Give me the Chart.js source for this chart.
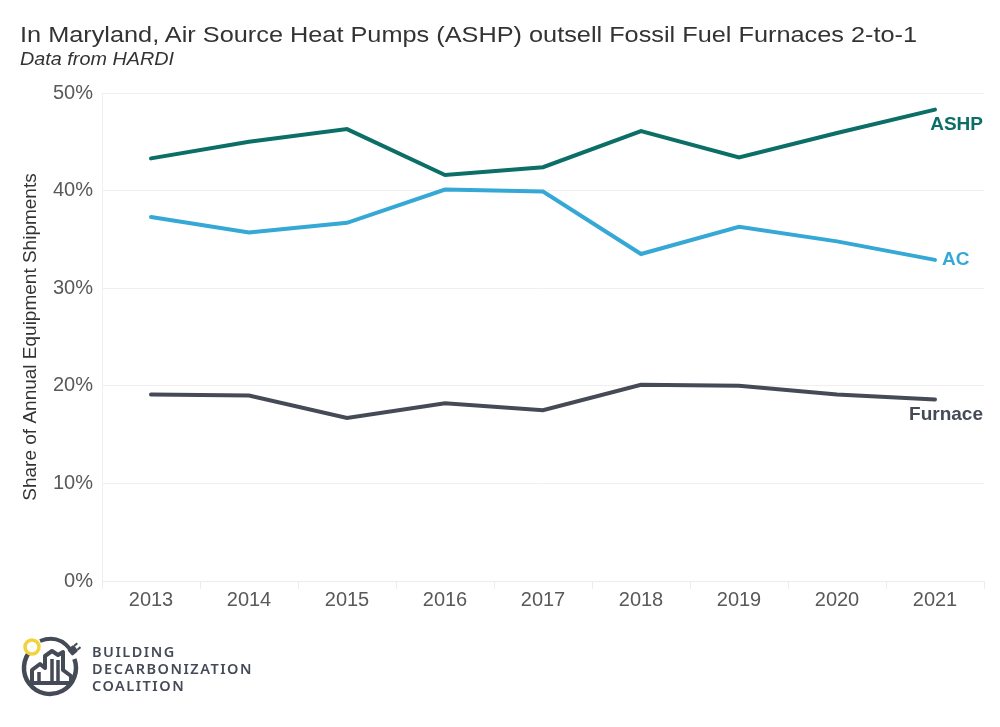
<!DOCTYPE html>
<html>
<head>
<meta charset="utf-8">
<script src="https://cdn.jsdelivr.net/npm/chart.js@4.4.1/dist/chart.umd.min.js"></script>
<style>
  body { margin: 0; background: #fff; }
  #wrap { position: relative; width: 1000px; height: 727px; font-family: "Liberation Sans", Arial, sans-serif; }
  #title { position: absolute; left: 20px; top: 22px; font-size: 22px; color: #333; white-space: nowrap;
    transform: scaleX(1.15); transform-origin: left top; }
  #sub { position: absolute; left: 20px; top: 49px; font-size: 18px; font-style: italic; color: #333; white-space: nowrap;
    transform: scaleX(1.1); transform-origin: left top; }
  #myChart { position: absolute; left: 0; top: 0; }
  #logo { position: absolute; left: 14px; top: 630px; }
  #logoText { position: absolute; left: 92px; top: 643px; font-family: "Noto Sans", sans-serif; font-weight: 600;
    font-size: 14.5px; line-height: 16.8px; letter-spacing: 1.5px; color: #454a57; }
</style>
</head>
<body>
<div id="wrap">
  <canvas id="myChart" width="1000" height="727"></canvas>
  <div id="title">In Maryland, Air Source Heat Pumps (ASHP) outsell Fossil Fuel Furnaces 2-to-1</div>
  <div id="sub">Data from HARDI</div>
  <svg id="logo" width="72" height="72" viewBox="0 0 72 72">
    <path d="M 60.4 29.1 A 26 26 0 1 1 17.6 19.6" fill="none" stroke="#454a57" stroke-width="4.5"/>
    <path d="M 26 11 Q 44 4 56 19" fill="none" stroke="#454a57" stroke-width="4"/>
    <g transform="translate(58 21) rotate(-40)">
      <rect x="-3" y="-4" width="8" height="8" rx="1.5" fill="#454a57"/>
      <path d="M 5 -2.5 L 9 -2.5 M 5 2.5 L 9 2.5" stroke="#454a57" stroke-width="2"/>
    </g>
    <circle cx="18" cy="17" r="7" fill="#fff" stroke="#f2d33c" stroke-width="3.5"/>
    <path d="M 18 53 L 18 40 L 26 34 L 31 38 L 31 26 L 38 21 L 44 25 L 49 22 L 49 40 L 57 46 L 57 53 Z"
      fill="none" stroke="#454a57" stroke-width="4" stroke-linejoin="round"/>
    <path d="M 25 53 L 25 42 M 38 53 L 38 29 M 44 53 L 44 30" stroke="#454a57" stroke-width="3.5"/>
  </svg>
  <div id="logoText">BUILDING<br>DECARBONIZATION<br>COALITION</div>
</div>
<script>
// data
const years = ["2013", "2014", "2015", "2016", "2017", "2018", "2019", "2020", "2021"];
const ashp = [43.3, 45.0, 46.3, 41.6, 42.4, 46.1, 43.4, 45.9, 48.3];
const ac = [37.3, 35.7, 36.7, 40.1, 39.9, 33.5, 36.3, 34.8, 32.9];
const furnace = [19.1, 19.0, 16.7, 18.2, 17.5, 20.1, 20.0, 19.1, 18.6];
const yTicks = [0, 10, 20, 30, 40, 50];

const colors = { ASHP: "#0b6e67", AC: "#35a8d6", Furnace: "#454a57" };

// draws the series name next to the last point of each line
const endLabels = {
  id: "endLabels",
  afterDatasetsDraw(chart) {
    const ctx = chart.ctx;
    ctx.save();
    ctx.font = "bold 19px 'Liberation Sans', Arial, sans-serif";
    ctx.textBaseline = "middle";
    chart.data.datasets.forEach((ds, i) => {
      const meta = chart.getDatasetMeta(i);
      const pt = meta.data[meta.data.length - 1];
      ctx.fillStyle = ds.borderColor;
      if (ds.label === "AC") {
        ctx.textAlign = "left";
        ctx.fillText(ds.label, pt.x + 7, pt.y);
      } else {
        ctx.textAlign = "right";
        ctx.fillText(ds.label, chart.chartArea.right - 1, pt.y + 15);
      }
    });
    ctx.restore();
  }
};

var ctx = document.getElementById("myChart").getContext("2d");
var chart = new Chart(ctx, {
  type: "line",
  data: {
    labels: years,
    datasets: [
      { label: "ASHP", data: ashp, borderColor: colors.ASHP },
      { label: "AC", data: ac, borderColor: colors.AC },
      { label: "Furnace", data: furnace, borderColor: colors.Furnace },
    ],
  },
  options: {
    responsive: false,
    animation: false,
    devicePixelRatio: 1,
    layout: { padding: { left: 0, right: 16, top: 93, bottom: 0 } },
    elements: {
      line: { borderWidth: 4, tension: 0, borderCapStyle: "round", borderJoinStyle: "miter" },
      point: { radius: 0 },
    },
    plugins: { legend: { display: false }, tooltip: { enabled: false } },
    scales: {
      x: {
        offset: true,
        grid: { offset: true, drawOnChartArea: false, color: "#ececec", tickLength: 8 },
        border: { color: "#ececec" },
        ticks: { color: "#595959", font: { size: 20, family: "'Liberation Sans', Arial" }, padding: -1, autoSkip: false, maxRotation: 0 },
        afterFit(axis) { axis.height = 146; },
      },
      y: {
        min: 0,
        max: 50,
        afterBuildTicks(axis) { axis.ticks = yTicks.map(v => ({ value: v })); },
        grid: { color: "#efefef", drawTicks: false },
        border: { color: "#efefef" },
        ticks: {
          color: "#595959",
          font: { size: 20, family: "'Liberation Sans', Arial" },
          padding: 9,
          callback: v => v + "%",
        },
        title: {
          display: true,
          text: "Share of Annual Equipment Shipments",
          color: "#333",
          font: { size: 19, family: "'Liberation Sans', Arial" },
          padding: { top: 19, bottom: 0 },
        },
        afterFit(axis) { axis.width = 102; },
      },
    },
  },
  plugins: [endLabels],
});
</script>
</body>
</html>
